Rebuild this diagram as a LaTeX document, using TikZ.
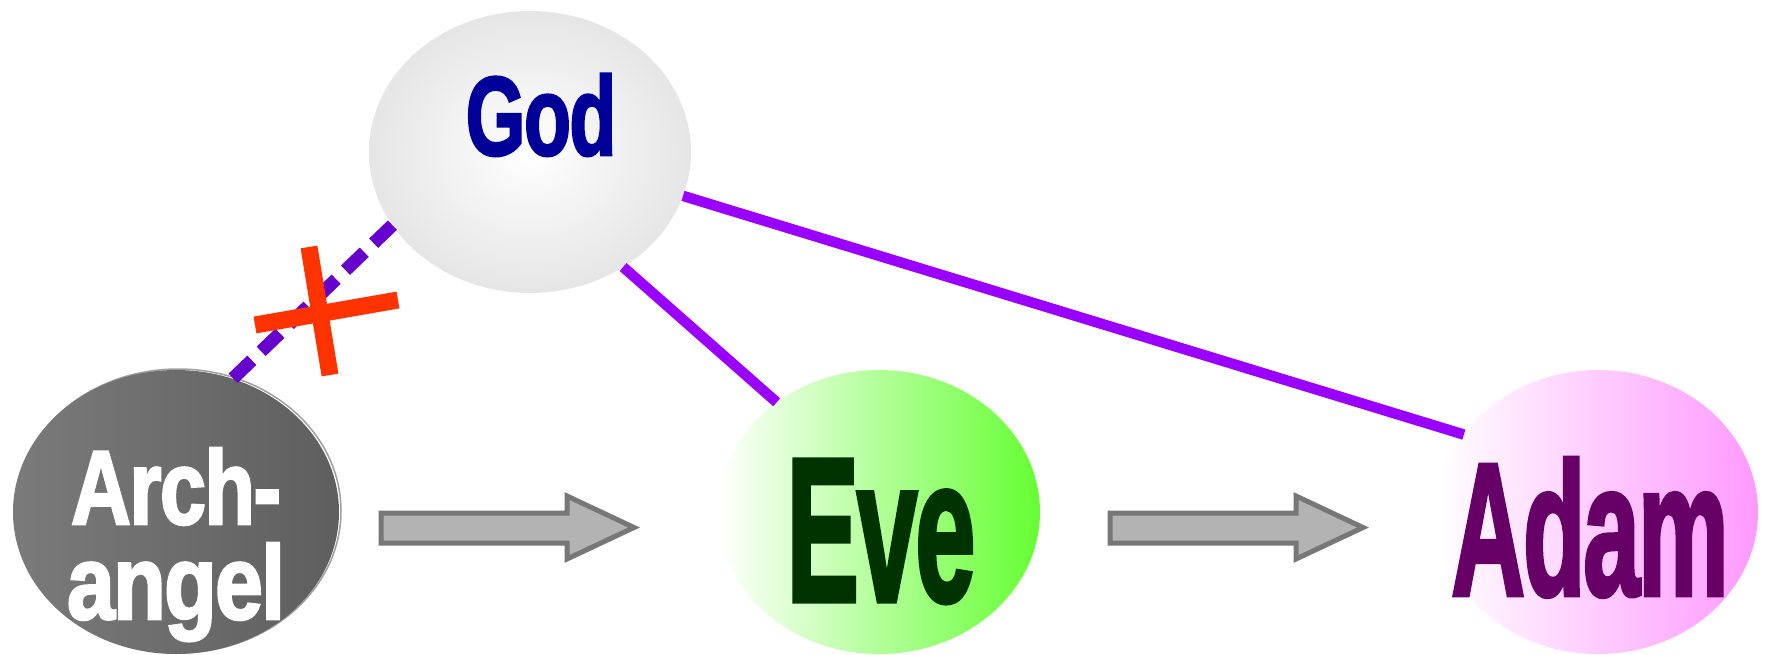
\documentclass[tikz,border=0pt]{standalone}
\usepackage{fontspec}
\usetikzlibrary{shapes.geometric}
\newfontfamily\impact[FakeBold=2.5,LetterSpace=-2]{Liberation Sans Bold}
\definecolor{godtxt}{HTML}{000099}
\definecolor{evetxt}{HTML}{003300}
\definecolor{adamtxt}{HTML}{660066}
\definecolor{evegreen}{HTML}{66FF33}
\definecolor{adampink}{HTML}{FF99FF}
\definecolor{linkviolet}{HTML}{9900FF}
\definecolor{brokenviolet}{HTML}{6600CC}
\definecolor{crossred}{HTML}{FF3300}
\definecolor{arrfill}{HTML}{B3B3B3}
\definecolor{arrdraw}{HTML}{777777}
\newcommand{\lbl}[3]{\scalebox{#1}[1]{\impact\fontsize{#2}{#2}\selectfont #3}}
\begin{document}
\begin{tikzpicture}[x=1pt,y=-1pt,
  blob/.style={ellipse, inner sep=0pt, outer sep=0pt, draw=none},
  word/.style={anchor=base, inner sep=0pt, outer sep=0pt},
  link/.style={draw=linkviolet, line width=10.5pt},
  broken/.style={draw=brokenviolet, line width=13pt, dash pattern=on 26pt off 13pt},
  cross/.style={draw=crossred, line width=17pt},
  blockarrow/.style={fill=arrfill, draw=arrdraw, line width=5pt}]
\useasboundingbox (0,0) rectangle (1767,654);

% ellipses
\node[blob, minimum width=322pt, minimum height=282pt, inner color=white, outer color=black!10] (god) at (530,152) {};
\node[blob, minimum width=326pt, minimum height=284pt, draw=black!38, line width=1.5pt] (archshadow) at (178,511) {};
\node[blob, minimum width=326pt, minimum height=284pt, left color=black!52, right color=black!63] (arch) at (176,512) {};
\node[blob, minimum width=322pt, minimum height=284pt, left color=white, right color=evegreen] (eve) at (879,512) {};
\node[blob, minimum width=320pt, minimum height=284pt, left color=white, right color=adampink] (adam) at (1598,512) {};

% labels
\node[word, text=godtxt] (godt) at (541,155) {\lbl{0.686}{112}{God}};
\node[word, text=white] (arch1) at (176,524) {\lbl{0.79}{105}{Arch-}};
\node[word, text=white] (arch2) at (176,619) {\lbl{0.82}{105}{angel}};
\node[word, text=evetxt] (evet) at (881,601) {\lbl{0.53}{205}{Eve}};
\node[word, text=adamtxt] (adamt) at (1590,595) {\lbl{0.54}{189}{Adam}};

% links
\draw[link] (god.-51) -- (eve.133);
\draw[link] (god.-16) -- (adam.150);
\draw[broken] (god.208) -- (arch.67);

% red cross
\draw[cross] (309,247) -- (330,375);
\draw[cross] (255,325) -- (398,300);

% block arrows
\draw[blockarrow] (381,513) -- (567,513) -- (567,496) -- (634,527.5) -- (567,559) -- (567,543) -- (381,543) -- cycle;
\draw[blockarrow] (1110,513) -- (1296,513) -- (1296,496) -- (1363,527.5) -- (1296,559) -- (1296,543) -- (1110,543) -- cycle;
\end{tikzpicture}
\end{document}
